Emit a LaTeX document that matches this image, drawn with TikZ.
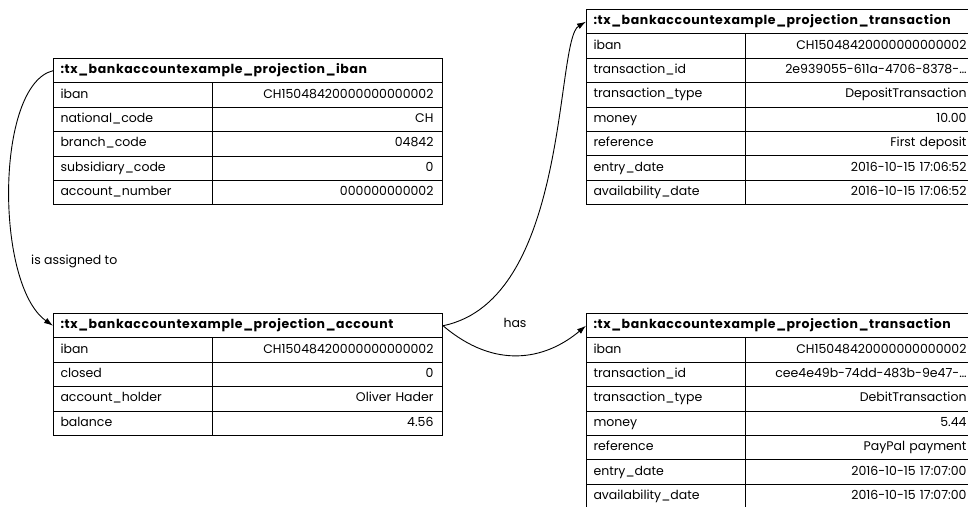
\documentclass[tikz,border=0pt]{standalone}
\usepackage{fontspec}
\setmainfont{Poppins}[BoldFeatures={LetterSpace=5}]
\usetikzlibrary{arrows.meta}
\newcommand\umltable[5]{%
  % #1 name, #2 left x, #3 top y, #4 header, #5 rows key/value
  \node[hdr, anchor=north west] (#1-h) at (#2,#3) {\mbox{#4}};
  \foreach \k/\v [count=\i] in {#5} {
    \node[keycell, anchor=north west] (#1-k\i) at (#2,{#3+\i*24.4}) {\mbox{\k}};
    \node[valcell, anchor=north west] (#1-v\i) at ({#2+159},{#3+\i*24.4}) {\mbox{\v}};
  }%
}
\begin{document}
\begin{tikzpicture}[x=1pt,y=-1pt,
  cellbase/.style={draw, line width=1pt, minimum height=24.4pt, inner xsep=7pt, inner ysep=0pt,
    text height=9pt, text depth=3pt, font=\fontsize{12.5}{15}\selectfont},
  hdr/.style={cellbase, text width=375pt, align=left, font=\fontsize{12.5}{15}\selectfont\bfseries},
  keycell/.style={cellbase, text width=145pt, align=left},
  valcell/.style={cellbase, inner xsep=9pt, text width=212pt, align=right},
  conn/.style={draw, line width=0.9pt, -{Latex[length=9pt,width=6pt]}},
  lbl/.style={font=\fontsize{12.5}{15}\selectfont, inner sep=0pt}]
\useasboundingbox (0,0) rectangle (968,506);

\umltable{iban}{53}{58}{:tx\_bankaccountexample\_projection\_iban}{%
  iban/CH15048420000000000002,
  national\_code/CH,
  branch\_code/04842,
  subsidiary\_code/0,
  account\_number/000000000002}

\umltable{acc}{53}{313}{:tx\_bankaccountexample\_projection\_account}{%
  iban/CH15048420000000000002,
  closed/0,
  account\_holder/Oliver Hader,
  balance/4.56}

\umltable{tra}{586}{9}{:tx\_bankaccountexample\_projection\_transaction}{%
  iban/CH15048420000000000002,
  transaction\_id/2e939055-611a-4706-8378-…,
  transaction\_type/DepositTransaction,
  money/10.00,
  reference/First deposit,
  entry\_date/2016-10-15 17:06:52,
  availability\_date/2016-10-15 17:06:52}

\umltable{trb}{586}{313}{:tx\_bankaccountexample\_projection\_transaction}{%
  iban/CH15048420000000000002,
  transaction\_id/cee4e49b-74dd-483b-9e47-…,
  transaction\_type/DebitTransaction,
  money/5.44,
  reference/PayPal payment,
  entry\_date/2016-10-15 17:07:00,
  availability\_date/2016-10-15 17:07:00}

\draw[conn] (iban-h.west) .. controls (-5,85) and (-5,285) .. (acc-h.west);
\draw[conn] (acc-h.east) .. controls (570,300) and (555,40) .. (tra-h.west);
\draw[conn] (acc-h.east) .. controls (495,370) and (545,360) .. (trb-h.west);

\node[lbl, anchor=west] (l1) at (31,261) {is assigned to};
\node[lbl] (l2) at (515,323) {has};
\end{tikzpicture}
\end{document}
